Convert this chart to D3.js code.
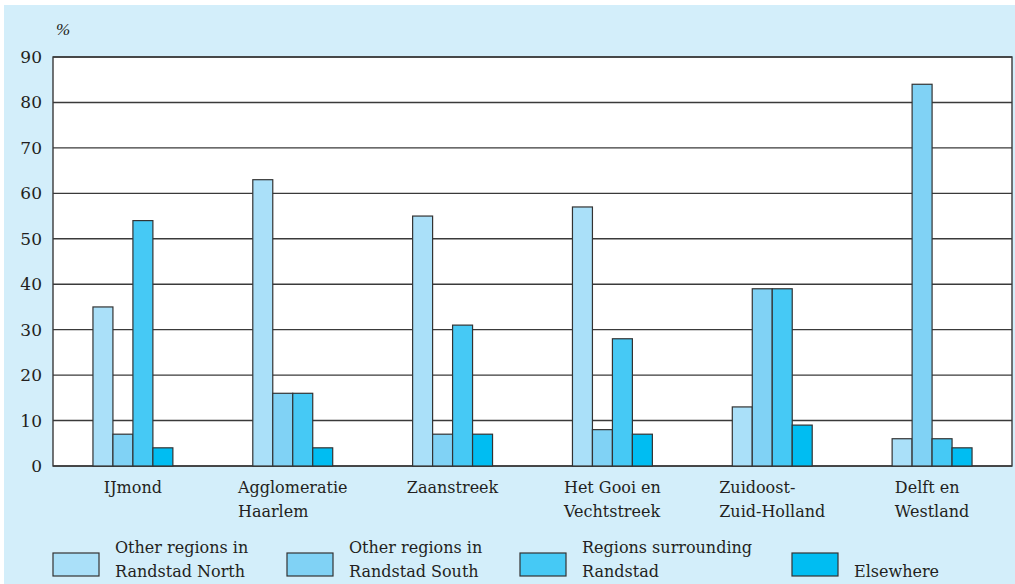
<!DOCTYPE html>
<html>
<head>
<meta charset="utf-8">
<script src="https://cdn.jsdelivr.net/npm/d3@7"></script>
<style>
  body { margin: 0; background: #fff; }
  text { font-family: "DejaVu Serif", serif; fill: #231f20; }
</style>
</head>
<body>
<script>
// data
var regions = [["IJmond"], ["Agglomeratie", "Haarlem"], ["Zaanstreek"],
               ["Het Gooi en", "Vechtstreek"], ["Zuidoost-", "Zuid-Holland"], ["Delft en", "Westland"]];
var seriesNames = [["Other regions in", "Randstad North"], ["Other regions in", "Randstad South"],
                   ["Regions surrounding", "Randstad"], ["", "Elsewhere"]];
var northVals = [35, 63, 55, 57, 13, 6];
var southVals = [7, 16, 7, 8, 39, 84];
var surroundVals = [54, 16, 31, 28, 39, 6];
var elseVals = [4, 4, 7, 7, 9, 4];
var yTicks = [0, 10, 20, 30, 40, 50, 60, 70, 80, 90];

var colors = ["#aae0f9", "#80d2f5", "#46c9f5", "#00bdf2"];
var series = [northVals, southVals, surroundVals, elseVals];

var W = 1015, H = 584;
var margin = {top: 57, right: 3, bottom: 118, left: 53},
    width = W - margin.left - margin.right,
    height = H - margin.top - margin.bottom;

var svg = d3.select("body").append("svg")
  .attr("width", W).attr("height", H);

svg.append("rect")
  .attr("x", 4).attr("y", 5).attr("width", W - 4).attr("height", H - 5)
  .attr("fill", "#d3eefa");

var g = svg.append("g")
  .attr("transform", "translate(" + margin.left + "," + margin.top + ")");

var x0 = d3.scaleBand().domain(d3.range(regions.length)).range([0, width]).paddingInner(0.5).paddingOuter(0.25);
var x1 = d3.scaleBand().domain(d3.range(series.length)).range([0, x0.bandwidth()]);
var y = d3.scaleLinear().domain([0, 90]).range([height, 0]);

g.append("rect")
  .attr("width", width).attr("height", height)
  .attr("fill", "#fff");

g.selectAll(".grid").data(yTicks).enter().append("line")
  .attr("x1", 0).attr("x2", width)
  .attr("y1", function(d){ return y(d); }).attr("y2", function(d){ return y(d); })
  .attr("stroke", "#3a3a3a").attr("stroke-width", 1.4);

g.append("rect")
  .attr("width", width).attr("height", height)
  .attr("fill", "none").attr("stroke", "#3a3a3a").attr("stroke-width", 1.4);

g.selectAll(".ylabel").data(yTicks).enter().append("text")
  .text(function(d){ return d; })
  .attr("x", -11)
  .attr("y", function(d){ return y(d) + 6; })
  .style("text-anchor", "end")
  .attr("font-size", 17);

svg.append("text").text("%")
  .attr("x", 56).attr("y", 35)
  .style("font-family", "Liberation Serif")
  .attr("font-size", 17).attr("font-style", "italic");

series.forEach(function(vals, s){
  g.selectAll(".bar" + s).data(vals).enter().append("rect")
    .attr("x", function(d, i){ return x0(i) + x1(s); })
    .attr("y", function(d){ return y(d); })
    .attr("width", x1.bandwidth())
    .attr("height", function(d){ return height - y(d); })
    .attr("fill", colors[s])
    .attr("stroke", "#333").attr("stroke-width", 1.2);
});

// category labels, left aligned block centred on the group
regions.forEach(function(lines, i){
  var t = g.append("text").attr("font-size", 16);
  var spans = lines.map(function(l, k){
    return t.append("tspan").text(l).attr("x", 0).attr("y", height + 27 + k * 24);
  });
  var w = d3.max(spans, function(sp){ return sp.node().getComputedTextLength(); });
  var cx = x0(i) + x0.bandwidth() / 2;
  spans.forEach(function(sp){ sp.attr("x", cx - w / 2); });
});

// legend
var legX = [53, 287, 520, 792];
seriesNames.forEach(function(lines, s){
  svg.append("rect")
    .attr("x", legX[s]).attr("y", 553).attr("width", 46).attr("height", 23)
    .attr("fill", colors[s]).attr("stroke", "#333").attr("stroke-width", 1.2);
  var t = svg.append("text").attr("font-size", 16);
  lines.forEach(function(l, k){
    t.append("tspan").text(l).attr("x", legX[s] + 62).attr("y", 553 + k * 24);
  });
});
</script>
</body>
</html>
